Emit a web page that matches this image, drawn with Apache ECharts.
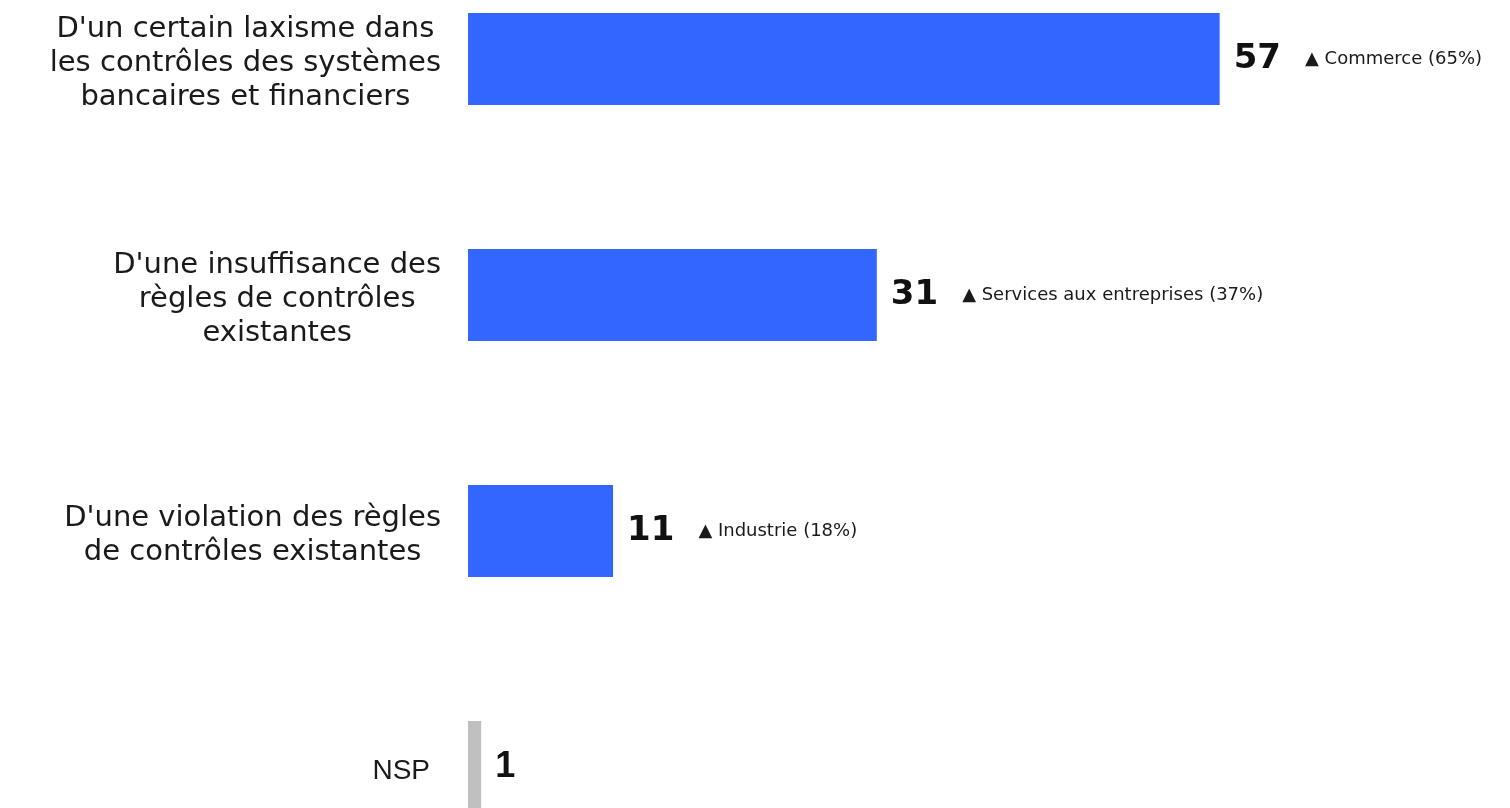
<!DOCTYPE html>
<html>
<head>
<meta charset="utf-8">
<script src="https://cdn.jsdelivr.net/npm/echarts@6/dist/echarts.min.js"></script>
<style>
  html, body { margin: 0; padding: 0; background: #fff; }
  #chart { width: 1510px; height: 808px; }
</style>
</head>
<body>
<div id="chart"></div>
<script>
const categories = [
  "D'un certain laxisme dans\nles contrôles des systèmes\nbancaires et financiers",
  "D'une insuffisance des\nrègles de contrôles\nexistantes",
  "D'une violation des règles\nde contrôles existantes",
  "NSP",
];
const values = [57, 31, 11, 1];
const notes = ["Commerce (65%)", "Services aux entreprises (37%)", "Industrie (18%)", ""];

const FONT = "'DejaVu Sans', Verdana, sans-serif";
const ARIAL = "'Liberation Sans', Arial, sans-serif";
const chart = echarts.init(document.getElementById("chart"));

chart.setOption({
  animation: false,
  grid: {
    left: 468, top: -59, width: 1055, height: 944,
    containLabel: false,
    outerBoundsMode: "none",
  },
  xAxis: { type: "value", min: 0, max: 80, show: false },
  yAxis: {
    type: "category",
    inverse: true,
    data: categories,
    axisLine: { show: false },
    axisTick: { show: false },
    axisLabel: {
      margin: 27,
      padding: [8, 0, 0, 0],
      formatter: function (value) {
        if (value === "NSP") return "{n|" + value + "}";
        return value.split("\n").map(function (l) { return "{c|" + l + "}"; }).join("\n");
      },
      rich: {
        c: { fontFamily: FONT, fontSize: 29, lineHeight: 34, color: "#1a1a1a", align: "center" },
        n: { fontFamily: ARIAL, fontSize: 28, lineHeight: 34, color: "#1a1a1a", padding: [0, 11, 0, 0] },
      },
    },
  },
  series: [
    {
      type: "bar",
      data: values,
      barWidth: 92,
      itemStyle: {
        color: function (p) { return categories[p.dataIndex] === "NSP" ? "#c0c0c0" : "#3366ff"; },
      },
      label: {
        show: true,
        position: "right",
        distance: 14,
        formatter: function (p) {
          const note = notes[p.dataIndex];
          if (categories[p.dataIndex] === "NSP") return "{vn|" + p.value + "}";
          return "{v|" + p.value + "}" + (note ? "{t|▲ " + note + "}" : "");
        },
        rich: {
          v: { fontFamily: FONT, fontSize: 34, fontWeight: "bold", color: "#111", verticalAlign: "middle" },
          vn: { fontFamily: ARIAL, fontSize: 36, fontWeight: "bold", color: "#111", verticalAlign: "middle" },
          t: { fontFamily: FONT, fontSize: 18, color: "#1a1a1a", padding: [0, 0, 0, 24], verticalAlign: "middle" },
        },
      },
    },
  ],
});
</script>
</body>
</html>
